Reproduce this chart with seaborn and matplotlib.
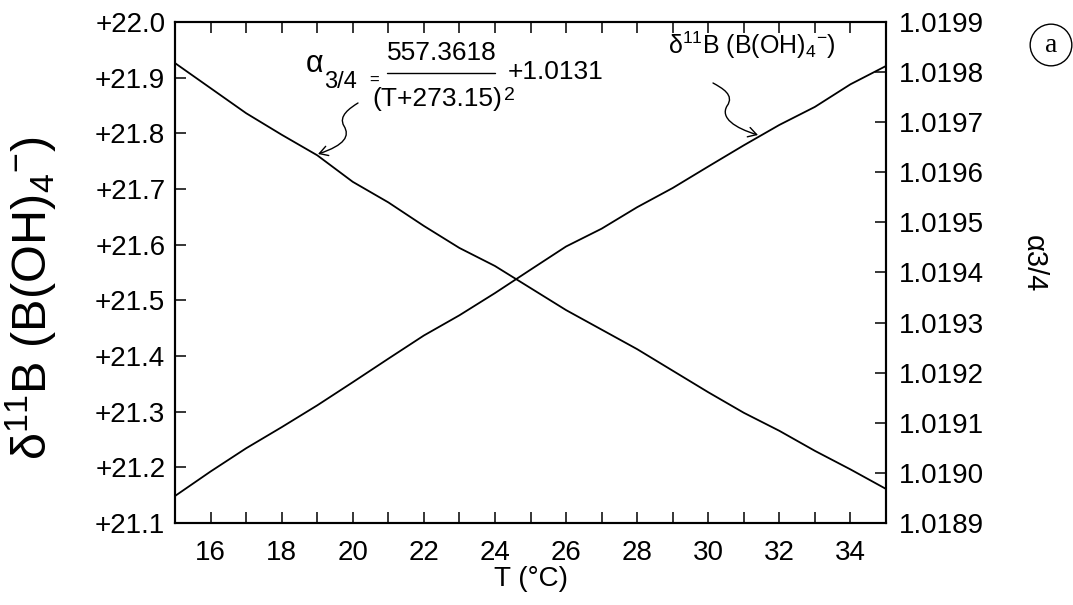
import numpy as np
import pandas as pd
import matplotlib
matplotlib.use("Agg")
import matplotlib.pyplot as plt
import seaborn as sns
from matplotlib.path import Path
from matplotlib.patches import FancyArrowPatch
from matplotlib.ticker import FixedLocator, MultipleLocator

# ---- data ----
temperature = [15, 16, 17, 18, 19, 20, 21, 22, 23, 24, 25,
               26, 27, 28, 29, 30, 31, 32, 33, 34, 35]
delta11B_borate = [21.1485, 21.1925, 21.2342, 21.2721, 21.3113, 21.3529, 21.3951,
                   21.4368, 21.4731, 21.5130, 21.5550, 21.5967, 21.6287, 21.6673,
                   21.7018, 21.7404, 21.7785, 21.8151, 21.8475, 21.8881, 21.9210]
alpha_34 = [1.019818, 1.019768, 1.019718, 1.019675, 1.019634, 1.019581, 1.019540,
            1.019493, 1.019449, 1.019413, 1.019369, 1.019325, 1.019286, 1.019247,
            1.019204, 1.019161, 1.019120, 1.019084, 1.019044, 1.019007, 1.018968]
x_ticks = [16, 18, 20, 22, 24, 26, 28, 30, 32, 34]
left_ticks = [21.1, 21.2, 21.3, 21.4, 21.5, 21.6, 21.7, 21.8, 21.9, 22.0]
left_labels = ["+21.1", "+21.2", "+21.3", "+21.4", "+21.5", "+21.6", "+21.7",
               "+21.8", "+21.9", "+22.0"]
right_ticks = [1.0189, 1.0190, 1.0191, 1.0192, 1.0193, 1.0194, 1.0195,
               1.0196, 1.0197, 1.0198, 1.0199]
right_labels = ["1.0189", "1.0190", "1.0191", "1.0192", "1.0193", "1.0194",
                "1.0195", "1.0196", "1.0197", "1.0198", "1.0199"]

df = pd.DataFrame({"T": temperature, "d11B": delta11B_borate, "alpha": alpha_34})

sns.set_style("ticks")
plt.rcParams["font.family"] = ["Liberation Sans", "DejaVu Sans"]
plt.rcParams["mathtext.default"] = "regular"
for k in ("text.color", "axes.labelcolor", "xtick.color", "ytick.color",
          "axes.edgecolor"):
    plt.rcParams[k] = "black"

W, H = 1073, 605
fig = plt.figure(figsize=(W / 100, H / 100), dpi=100)
ax = fig.add_axes([175 / W, 1 - 523 / H, 711 / W, 501 / H])
ax2 = ax.twinx()

sns.lineplot(data=df, x="T", y="d11B", ax=ax, color="black", lw=1.3)
sns.lineplot(data=df, x="T", y="alpha", ax=ax2, color="black", lw=1.3)

ax.set_xlim(15, 35)
ax.set_ylim(21.1, 22.0)
ax2.set_ylim(1.0189, 1.0199)

ax.xaxis.set_major_locator(FixedLocator(x_ticks))
ax.xaxis.set_minor_locator(MultipleLocator(1))
ax.set_yticks(left_ticks)
ax.set_yticklabels(left_labels)
ax2.set_yticks(right_ticks)
ax2.set_yticklabels(right_labels)

ax.tick_params(axis="x", which="both", direction="in", top=True, bottom=True,
               length=8, width=1.1, labelsize=20, pad=12)
ax.tick_params(axis="y", direction="in", left=True, right=False, length=8,
               width=1.1, labelsize=20, pad=7)
ax2.tick_params(axis="y", direction="in", right=True, left=False, length=8,
                width=1.1, labelsize=20, pad=9)
ax.set_xlabel("T (°C)", fontsize=20, labelpad=0)
ax.set_ylabel("")
ax2.set_ylabel("")
for a in (ax, ax2):
    for s in a.spines.values():
        s.set_linewidth(1.5)
        s.set_color("black")


def fp(x, y):
    return (x / W, 1 - y / H)


# left y label
fig.text(*fp(31, 298), "δ$^{11}$B (B(OH)$_4$$^{-}$)", rotation=90,
         ha="center", va="center", fontsize=35)
# right y label
fig.text(*fp(1034, 264), "α3/4", rotation=270, ha="center", va="center",
         fontsize=21)

# formula annotation
fig.text(*fp(315, 64), "α", ha="center", va="center", fontsize=22)
fig.text(*fp(341, 82), "3/4", ha="center", va="center", fontsize=17)
fig.text(*fp(374, 80), "=", ha="center", va="center", fontsize=12)
fig.text(*fp(442, 53), "557.3618", ha="center", va="center", fontsize=19)
fig.add_artist(plt.Line2D([387 / W, 495 / W], [1 - 73 / H, 1 - 73 / H],
                          color="black", lw=1.0, transform=fig.transFigure))
fig.text(*fp(437, 99), "(T+273.15)", ha="center", va="center", fontsize=19)
fig.text(*fp(509, 95), "2", ha="center", va="center", fontsize=14)
fig.text(*fp(556, 72), "+1.0131", ha="center", va="center", fontsize=19)

# delta label annotation
fig.text(*fp(752, 45), "δ$^{11}$B (B(OH)$_4$$^{-}$)", ha="center", va="center",
         fontsize=18)

# circled a
fig.text(*fp(1051, 45), "a", ha="center", va="center", fontsize=20,
         family="Liberation Serif",
         bbox=dict(boxstyle="circle,pad=0.3", fc="white", ec="black", lw=1.0))


def squiggle(pts):
    verts = [fp(*p) for p in pts]
    codes = [Path.MOVETO] + [Path.CURVE4] * (len(verts) - 1)
    arr = FancyArrowPatch(path=Path(verts, codes), arrowstyle="->,head_length=6,head_width=3.5",
                          color="black", lw=1.0, transform=fig.transFigure)
    fig.add_artist(arr)


squiggle([(358, 103), (350, 108), (338, 116), (344, 126),
          (350, 136), (345, 145), (318, 154)])
squiggle([(713, 83), (722, 88), (735, 95), (727, 106),
          (720, 118), (735, 128), (758, 135)])

fig.savefig("out.png", dpi=100)
